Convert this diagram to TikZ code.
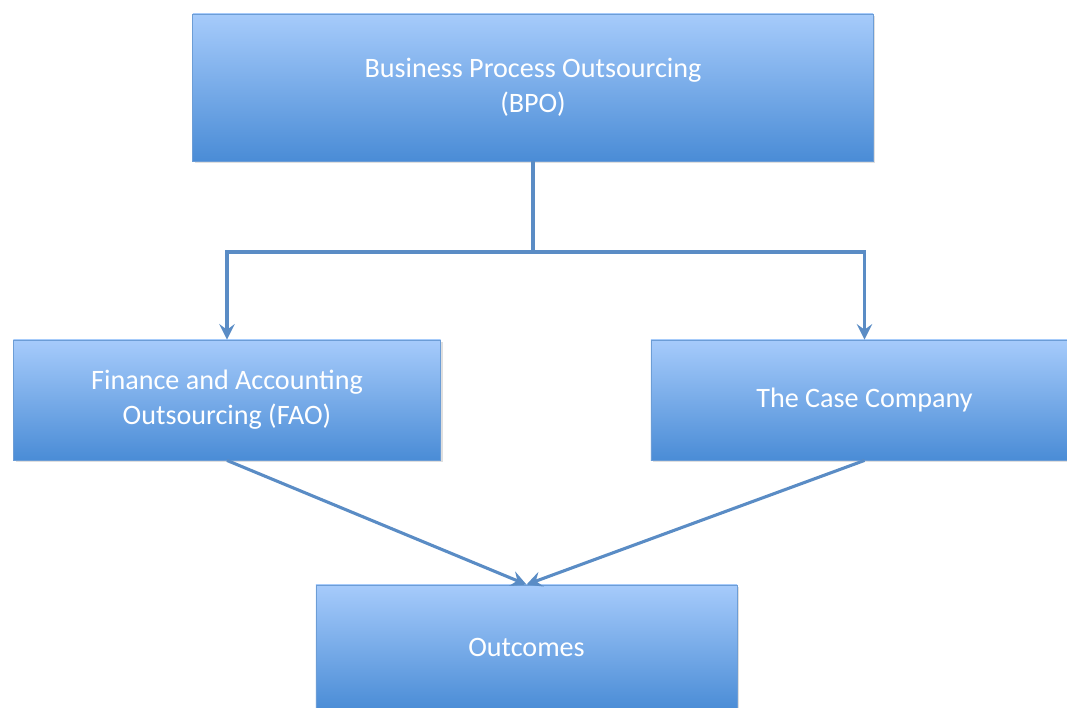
\documentclass[tikz,border=0pt]{standalone}
\usepackage{fontspec}
\setmainfont{Carlito}
\usetikzlibrary{arrows.meta,shadows}
\definecolor{boxtop}{HTML}{A6CBFB}
\definecolor{boxbot}{HTML}{4A8CD6}
\definecolor{boxedge}{HTML}{6C9DD6}
\definecolor{linkblue}{HTML}{5A8CC5}
\begin{document}
\begin{tikzpicture}[x={(0.025cm,0)},y={(0,-0.025cm)},
		every node/.style={rectangle,top color=boxtop,bottom color=boxbot,draw=boxedge,line width=.6pt,
			text=white,align=center,font=\fontsize{20}{25}\selectfont,
			drop shadow={opacity=.25,shadow xshift=1.5pt,shadow yshift=-1.5pt}},
		link/.style={draw=linkblue,line width=2.2pt},
		arr/.style={link,-{Stealth[length=11pt,width=11pt,inset=4pt]}}]
			\clip (0,0) rectangle (1067,708);
			\node[anchor=center,minimum width=17cm,minimum height=3.675cm] (bpo) at (533,87.5)
				{Business Process Outsourcing\\(BPO)};
			\node[anchor=center,minimum width=10.675cm,minimum height=3cm] (fao) at (227,400)
				{Finance and Accounting\\Outsourcing (FAO)};
			\node[anchor=center,minimum width=10.675cm,minimum height=3cm] (case) at (864.5,400)
				{The Case Company};
			\node[anchor=center,minimum width=10.525cm,minimum height=3.125cm] (outc) at (526.5,647.5)
				{Outcomes};
			\coordinate (split) at (533,252);
			\draw[link] (bpo.south) -- (split);
			\draw[arr] (split) -| (fao.north);
			\draw[arr] (split) -| (case.north);
			\draw[arr] (fao.south) -- (outc.north);
			\draw[arr] (case.south) -- (outc.north);
\end{tikzpicture}
\end{document}
